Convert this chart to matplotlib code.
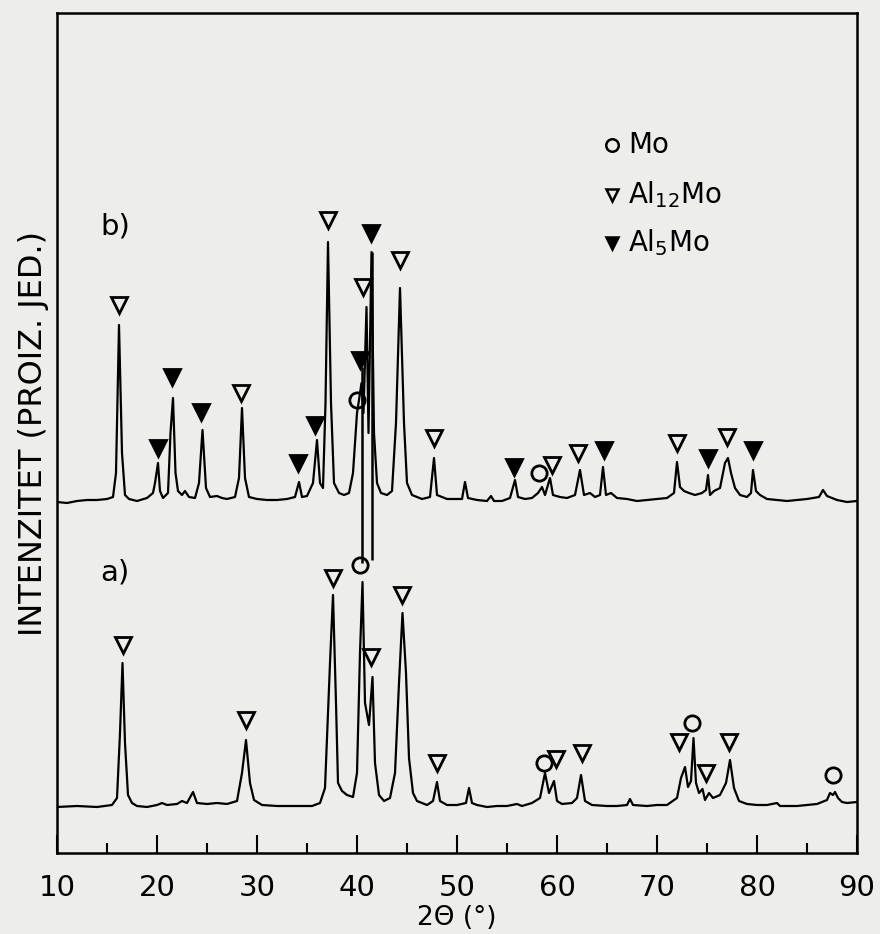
import matplotlib.pyplot as plt
import numpy as np

# trace a) (bottom): 2theta, intensity (arb. units, pixel scale)
a_2theta = [10, 12, 14, 15.5, 16.0, 16.3, 16.55, 16.8, 17.1, 17.5, 18, 19, 20, 20.5, 21, 22, 22.5,
            23, 23.6, 24, 25, 26, 27, 28.0, 28.5, 28.9, 29.3, 29.7, 30.5, 32, 34, 35.5, 36.3, 36.8,
            37.3, 37.6, 37.9, 38.1, 38.5, 39.0, 39.6, 40.0, 40.3, 40.55, 40.8, 41.2, 41.55, 41.8, 42.2,
            42.7, 43.3, 43.8, 44.2, 44.55, 44.9, 45.2, 45.6, 46.0, 47.0, 47.6, 48.0, 48.3, 49, 50,
            50.9, 51.2, 51.5, 52, 53, 54, 55, 56, 56.5, 57.5, 58.3, 58.8, 59.2, 59.7, 60.0, 60.5,
            61.5, 62.0, 62.4, 62.8, 63.5, 65, 66, 67.0, 67.3, 67.6, 69, 70, 71, 72.0, 72.4, 72.8,
            73.1, 73.4, 73.65, 73.9, 74.2, 74.55, 74.8, 75.2, 75.6, 76.3, 76.9, 77.3, 77.7, 78.2,
            79, 80, 81, 82.0, 82.3, 83, 84, 85, 86, 87.0, 87.3, 87.6, 87.8, 88.1, 88.5, 89, 90]
a_int = [46, 47, 46, 48, 55, 120, 190, 110, 58, 50, 47, 46, 48, 50, 48, 49, 52,
         50, 61, 50, 49, 50, 49, 52, 80, 113, 70, 53, 48, 47, 47, 47, 50, 65,
         190, 258, 150, 70, 62, 58, 56, 80, 200, 271, 150, 128, 176, 90, 58,
         52, 55, 80, 170, 240, 180, 95, 60, 52, 48, 52, 71, 52, 48, 48,
         50, 65, 50, 48, 46, 47, 47, 49, 47, 50, 55, 80, 60, 72, 52, 49,
         50, 55, 78, 52, 48, 47, 47, 48, 54, 48, 47, 48, 48, 55, 75, 86,
         66, 72, 115, 70, 60, 64, 53, 60, 55, 58, 70, 93, 65, 52,
         49, 48, 48, 50, 47, 47, 47, 48, 49, 53, 60, 58, 61, 55, 51, 50, 51]

# trace b) (top)
b_2theta = [10, 11, 12, 13, 14, 15, 15.6, 15.9, 16.2, 16.5, 16.8, 17.2, 18, 19, 19.6, 19.8, 20.1,
            20.3, 20.6, 21.1, 21.35, 21.6, 21.85, 22.1, 22.5, 22.8, 23.2, 23.8, 24.2, 24.55, 24.9,
            25.3, 26, 26.5, 27, 27.8, 28.2, 28.5, 28.8, 29.2, 30, 31, 32, 33, 33.8, 34.2, 34.5, 35.0,
            35.6, 36.0, 36.3, 36.6, 36.85, 37.1, 37.4, 37.7, 38.2, 38.7, 39.2, 39.6, 40.0, 40.2,
            40.45, 40.65, 40.95, 41.15, 41.45, 41.7, 42.0, 42.4, 43.0, 43.5, 43.9, 44.3, 44.7, 45.0,
            45.5, 46.5, 47.3, 47.7, 48.0, 49, 50.5, 50.8, 51.1, 52, 53, 53.4, 53.7, 54.5, 55.3, 55.8,
            56.1, 56.8, 57.5, 58.1, 58.5, 58.8, 59.3, 59.6, 60.3, 61.0, 61.8, 62.3, 62.7, 63.3, 63.8,
            64.3, 64.6, 64.9, 65.4, 66, 67, 68, 69, 70, 71, 71.7, 72.0, 72.3, 72.7, 73.2, 73.8, 74.5,
            74.9, 75.1, 75.3, 75.7, 76.3, 76.8, 77.1, 77.4, 77.8, 78.3, 79.0, 79.4, 79.6, 79.9, 80.3,
            81, 82, 83, 84, 85, 86.2, 86.6, 87.0, 88, 89, 90]
b_int = [351, 350, 352, 353, 353, 354, 356, 380, 528, 400, 358, 354, 352, 355, 360, 370, 390,
         362, 355, 360, 420, 455, 380, 362, 358, 362, 356, 355, 370, 423, 365,
         356, 357, 355, 354, 356, 375, 445, 375, 356, 354, 353, 353, 354, 356, 371, 356, 357,
         370, 413, 370, 365, 450, 611, 450, 370, 360, 358, 360, 380, 440, 453,
         470, 440, 546, 420, 601, 420, 370, 360, 358, 362, 430, 565, 430, 370,
         358, 354, 356, 395, 358, 354, 354, 371, 355, 353, 352, 357, 352, 352, 355, 373,
         356, 354, 355, 360, 366, 358, 375, 358, 356, 355, 358, 383, 358, 360, 356,
         358, 386, 358, 360, 355, 354, 352, 353, 354, 355, 360, 391, 366, 362, 360, 358, 360,
         363, 378, 358, 362, 365, 390, 395, 380, 365, 358, 356, 360, 383, 362, 358,
         354, 353, 352, 353, 354, 356, 363, 357, 353, 351, 352]

# pen strokes running below the b) baseline near 41 deg
b_stroke_x = [40.45, 41.45]
b_stroke_top = [486, 601]
b_stroke_bottom = [290, 293]

# phase markers: (2theta, height)
a_al12mo = [(16.6, 208), (28.9, 133), (37.6, 275), (41.4, 196), (44.5, 258), (48.0, 90),
            (59.9, 94), (62.5, 100), (72.2, 111), (74.9, 80), (77.2, 111)]
a_mo = [(40.3, 288), (58.7, 90), (73.5, 130), (87.6, 78)]
b_al12mo = [(16.2, 548), (28.4, 460), (37.1, 633), (40.6, 566), (44.3, 593), (47.7, 415),
            (59.5, 388), (62.1, 400), (72.0, 410), (77.0, 416)]
b_al5mo = [(20.1, 405), (21.5, 476), (24.4, 441), (34.1, 390), (35.8, 428), (40.3, 493),
           (41.4, 620), (55.7, 386), (64.7, 403), (75.1, 395), (79.6, 403)]
b_mo = [(40.0, 453), (58.2, 380)]

legend_labels = ['Mo', r'Al$_{12}$Mo', r'Al$_{5}$Mo']

bg = '#ededeb'
fig = plt.figure(figsize=(8.8, 9.34), dpi=100, facecolor=bg)
ax = fig.add_axes([57 / 880, 81 / 934, 800 / 880, 840 / 934], facecolor=bg)

ax.plot(a_2theta, a_int, color='black', lw=1.6)
ax.plot(b_2theta, b_int, color='black', lw=1.6)
ax.vlines(b_stroke_x, b_stroke_bottom, b_stroke_top, color='black', lw=1.8)

def put(points, marker, filled):
    xs = [p[0] for p in points]
    ys = [p[1] for p in points]
    ax.plot(xs, ys, ls='none', marker=marker, ms=11, mew=2.0, mec='black',
            mfc='black' if filled else 'none', zorder=3)

put(a_al12mo, 'v', False)
put(a_mo, 'o', False)
put(b_al12mo, 'v', False)
put(b_al5mo, 'v', True)
put(b_mo, 'o', False)

# legend
leg_y = [708, 658, 610]
leg_style = [('o', False), ('v', False), ('v', True)]
for y, (m, filled), lab in zip(leg_y, leg_style, legend_labels):
    ax.plot([65.5], [y], ls='none', marker=m, ms=9, mew=1.8, mec='black',
            mfc='black' if filled else 'none')
    ax.text(67.1, y, lab, fontsize=20, va='center', ha='left')

ax.text(14.3, 627, 'b)', fontsize=21, va='center', ha='left')
ax.text(14.3, 280, 'a)', fontsize=21, va='center', ha='left')

ax.set_xlim(10, 90)
ax.set_ylim(0, 840)
ax.set_xticks(np.arange(10, 91, 10))
ax.set_xticks(np.arange(15, 90, 10), minor=True)
ax.tick_params(axis='x', which='major', direction='in', length=13, width=1.5,
               labelsize=21, pad=15)
ax.tick_params(axis='x', which='minor', direction='in', length=7, width=1.5)
ax.set_yticks([])
for s in ax.spines.values():
    s.set_linewidth(1.8)

ax.set_xlabel('2Θ (°)', fontsize=19, labelpad=2)
ax.set_ylabel('INTENZITET (PROIZ. JED.)', fontsize=23, labelpad=6)

fig.savefig('out.png', dpi=100, facecolor=bg)
